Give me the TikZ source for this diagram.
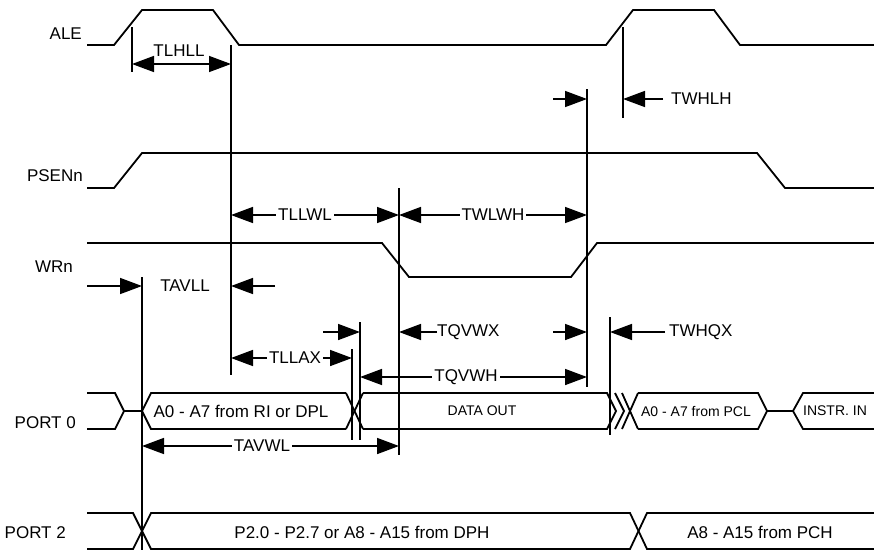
\documentclass[tikz,border=0pt]{standalone}
\usepackage{fontspec}
\setmainfont{Liberation Sans}
\usetikzlibrary{arrows.meta}

\tikzset{
  sig/.style={line width=1.8pt},
  tline/.style={line width=1.5pt},
  tarr/.style={line width=1.5pt,-{Triangle[length=22pt,width=16pt]}},
  tboth/.style={line width=1.5pt,{Triangle[length=22pt,width=16pt]}-{Triangle[length=22pt,width=16pt]}},
  lbl/.style={font=\fontsize{17}{19}\selectfont,inner sep=1pt},
  gaplbl/.style={lbl,fill=white,inner sep=2pt},
  buslbl/.style={font=\fontsize{14}{16}\selectfont,inner sep=0pt},
  signame/.style={lbl,inner sep=0pt,anchor=east}
}

\begin{document}
\begin{tikzpicture}[x=1pt,y=-1pt]
\useasboundingbox (0,0) rectangle (874,550);

\coordinate (aleA) at (132,27);
\coordinate (aleB) at (132,72);
\coordinate (llA) at (231,45);
\coordinate (llB) at (231,375);
\coordinate (whA) at (587,89);
\coordinate (whB) at (587,387);
\coordinate (lhA) at (623,27);
\coordinate (lhB) at (623,118);
\coordinate (wlA) at (399,188);
\coordinate (wlB) at (399,455);
\coordinate (avA) at (142,277);
\coordinate (avB) at (142,550);
\coordinate (qvA) at (360,322);
\coordinate (qvB) at (360,440);
\coordinate (laA) at (352,349);
\coordinate (laB) at (352,440);
\coordinate (hqA) at (610,317);
\coordinate (hqB) at (610,435);

\draw[sig] (87,45) -- (114,45) -- (142,10) -- (213,10) -- (239,45) -- (606,45) -- (633,10) -- (714,10) -- (740,45) -- (874,45);
\draw[sig] (87,188) -- (114,188) -- (142,153) -- (757,153) -- (785,188) -- (874,188);
\draw[sig] (87,243) -- (382,243) -- (409,277) -- (571,277) -- (597,243) -- (874,243);

\draw[sig] (87,393) -- (115,393) -- (124,411) -- (115,429) -- (87,429);
\draw[sig] (124,411) -- (142,411);
\draw[sig] (346,393) -- (151,393) -- (142,411) -- (151,429) -- (346,429);
\draw[sig] (346,393) -- (363,429);
\draw[sig] (346,429) -- (363,393);
\draw[sig] (363,393) -- (607,393) -- (616,411) -- (607,429) -- (363,429);
\draw[sig] (615,393) -- (624,411) -- (615,429);
\draw[sig] (622,393) -- (638,429);
\draw[sig] (622,429) -- (638,393);
\draw[sig] (638,393) -- (758,393) -- (767,411) -- (758,429) -- (638,429);
\draw[sig] (767,411) -- (793,411);
\draw[sig] (874,393) -- (803,393) -- (793,411) -- (803,429) -- (874,429);

\draw[sig] (87,513) -- (133,513) -- (151,549) -- (630,549) -- (647,513) -- (874,513);
\draw[sig] (87,549) -- (133,549) -- (151,513) -- (630,513) -- (647,549) -- (874,549);

\draw[tline] (aleA) -- (aleB);
\draw[tline] (llA) -- (llB);
\draw[tline] (whA) -- (whB);
\draw[tline] (lhA) -- (lhB);
\draw[tline] (wlA) -- (wlB);
\draw[tline] (avA) -- (avB);
\draw[tline] (qvA) -- (qvB);
\draw[tline] (laA) -- (laB);
\draw[tline] (hqA) -- (hqB);

\draw[tboth] (132,64) -- (231,64);
\node[lbl] (tlhll) at (179,51) {TLHLL};

\draw[tarr] (553,99) -- (587,99);
\draw[tarr] (663,99) -- (623,99);
\node[lbl,anchor=west] (twhlh) at (670,99) {TWHLH};

\draw[tboth] (231,215) -- (399,215);
\node[gaplbl] (tllwl) at (305,215) {TLLWL};
\draw[tboth] (399,215) -- (587,215);
\node[gaplbl] (twlwh) at (493,215) {TWLWH};

\draw[tarr] (87,286) -- (142,286);
\draw[tarr] (275,286) -- (231,286);
\node[lbl] (tavll) at (185,286) {TAVLL};

\draw[tarr] (323,332) -- (360,332);
\draw[tarr] (437,332) -- (399,332);
\node[lbl,anchor=west] (tqvwx) at (436,332) {TQVWX};
\draw[tarr] (553,332) -- (587,332);

\draw[tarr] (665,332) -- (610,332);
\node[lbl,anchor=west] (twhqx) at (668,332) {TWHQX};

\draw[tboth] (231,358) -- (352,358);
\node[gaplbl] (tllax) at (295,358) {TLLAX};

\draw[tboth] (360,377) -- (587,377);
\node[gaplbl] (tqvwh) at (466,377) {TQVWH};

\draw[tboth] (142,446) -- (399,446);
\node[gaplbl] (tavwl) at (262,446) {TAVWL};

\node[signame] (ale) at (82,34) {ALE};
\node[signame] (psen) at (83,176) {PSENn};
\node[signame] (wr) at (73,267) {WRn};
\node[signame] (port0) at (76,423) {PORT 0};
\node[signame] (port2) at (66,533) {PORT 2};

\node[lbl] (adrlo) at (241,411) {A0 - A7 from RI or DPL};
\node[buslbl] (dout) at (482,411) {DATA OUT};
\node[buslbl] (pcl) at (696,411) {A0 - A7 from PCL};
\node[buslbl] (instr) at (835,411) {INSTR. IN};
\node[lbl] (adrhi) at (362,532) {P2.0 - P2.7 or A8 - A15 from DPH};
\node[lbl] (pch) at (760,532) {A8 - A15 from PCH};
\end{tikzpicture}
\end{document}
